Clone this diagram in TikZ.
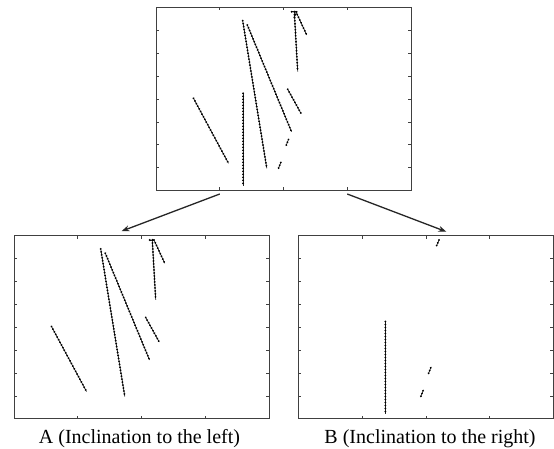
\documentclass[tikz,border=0pt]{standalone}
\usepackage{fontspec}
\setmainfont{Liberation Serif}
\usetikzlibrary{arrows.meta,decorations.markings}

% ticks of one panel, in panel coordinates
\newcommand{\panelticks}{%
  \foreach \x in {63.75,127.5,191.25} {
    \draw[axis] (\x,0)--(\x,3);
    \draw[axis] (\x,183)--(\x,180);
  }
  \foreach \k in {1,...,7} {
    \draw[axis] (0,\k*22.875)--(3,\k*22.875);
    \draw[axis] (255,\k*22.875)--(252,\k*22.875);
  }
}
% segments leaning to the left
\newcommand{\leftlines}{%
  \draw[seg] (37.5,90.8)--(72.5,155.8);
  \draw[seg] (86.7,13.2)--(110.8,160.8);
  \draw[seg] (91.3,17.5)--(135.5,124.2);
  \draw[seg] (138.3,4.3)--(141.7,64.2);
  \draw[seg] (140,4.3)--(150.7,27.5);
  \draw[seg] (135.7,4.3)--(140.7,4.3);
  \draw[seg] (131.7,81.8)--(145,105.9);
}
% segments leaning to the right
\newcommand{\rightlines}{%
  \draw[seg] (87,85.8)--(87,178.7);
  \draw[seg] (140.7,4.3)--(138.3,10);
  \draw[seg] (132.5,132)--(130.2,137.8);
  \draw[seg] (124.8,155)--(122.5,160.8);
}

\begin{document}
\begin{tikzpicture}[x=1pt,y=-1pt,
  panel/.style={draw=black!75,line width=0.8pt,minimum width=255pt,minimum height=183pt,
    inner sep=0pt,outer sep=0pt,anchor=north west},
  axis/.style={black!75,line width=0.6pt},
  seg/.style={black!85,line width=0.7pt,postaction={decorate},
    decoration={markings,mark=between positions 0 and 1 step 3pt with {\fill[black] (0,0) circle (1.05pt);}}},
  arr/.style={-{Stealth[length=8pt,width=6pt]},line width=1.3pt,black!85},
  lbl/.style={anchor=base,font=\fontsize{20}{24}\selectfont}]
\useasboundingbox (0,0) rectangle (554,449);

% original
\node[panel] (orig) at (156,7.5) {};
\begin{scope}[shift={(156,7.5)}]
\panelticks
\leftlines
\rightlines
\end{scope}

% A
\node[panel] (imgA) at (14,235.7) {};
\begin{scope}[shift={(14,235.7)}]
\panelticks
\leftlines
\end{scope}

% B
\node[panel] (imgB) at (298.3,235.7) {};
\begin{scope}[shift={(298.3,235.7)}]
\panelticks
\rightlines
\end{scope}

\draw[arr] ([xshift=-63.75pt,yshift=-3.5pt]orig.south) -- ([xshift=-20pt,yshift=4.5pt]imgA.north);
\draw[arr] ([xshift=63.75pt,yshift=-3.5pt]orig.south) -- ([xshift=20.5pt,yshift=4pt]imgB.north);

\node[lbl] (labA) at (139.5,443) {A (Inclination to the left)};
\node[lbl] (labB) at (430,443) {B (Inclination to the right)};
\end{tikzpicture}
\end{document}
